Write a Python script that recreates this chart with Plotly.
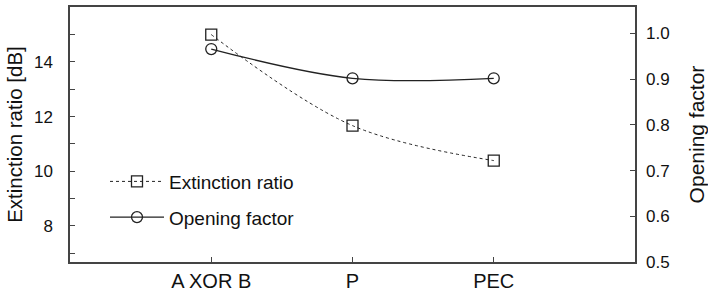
import plotly.graph_objects as go

categories = ["A XOR B", "P", "PEC"]
extinction_ratio = [15.0, 11.67, 10.39]
opening_factor = [0.966, 0.902, 0.902]

font_family = "Liberation Sans, Arial, sans-serif"
line_col = "#222"
axis_col = "#444"

fig = go.Figure()
fig.add_trace(go.Scatter(
    x=[0, 1, 2], y=extinction_ratio, name="Extinction ratio",
    mode="lines+markers", line=dict(color=line_col, width=1, dash="3px,3px", shape="spline"),
    marker=dict(symbol="square-open", size=11, color=line_col, line=dict(width=1.3)),
    legendgroup="a", yaxis="y"))
fig.add_trace(go.Scatter(
    x=[0, 1, 2], y=opening_factor, name="Opening factor",
    mode="lines+markers", line=dict(color=line_col, width=1.3, shape="spline"),
    marker=dict(symbol="circle-open", size=11, color=line_col, line=dict(width=1.3)),
    legendgroup="b", yaxis="y2"))

fig.update_layout(
    width=708, height=294,
    margin=dict(l=70, r=73, t=7, b=32, autoexpand=False),
    paper_bgcolor="white", plot_bgcolor="white",
    font=dict(family=font_family, size=17, color="#111"),
    showlegend=True,
    legend=dict(x=(105 - 70) / 565, y=0.39, xanchor="left", yanchor="top",
                font=dict(size=19), tracegroupgap=8, itemwidth=54,
                bgcolor="rgba(0,0,0,0)"),
    xaxis=dict(range=[-1, 3], tickvals=[0, 1, 2], ticktext=categories,
               tickfont=dict(size=20), automargin=False,
               showline=True, linecolor=axis_col, linewidth=1.5, mirror=True,
               ticks="inside", ticklen=5, tickcolor=axis_col, showgrid=False, zeroline=False),
    yaxis=dict(range=[6.68, 16.01], tickvals=[8, 10, 12, 14], ticks="inside", ticklen=5,
               tickcolor=axis_col, showline=True, linecolor=axis_col, linewidth=1.5, mirror=True,
               showgrid=False, zeroline=False, automargin=False, ticklabelstandoff=12,
               minor=dict(tickvals=[7, 9, 11, 13, 15], ticks="inside", ticklen=5, tickcolor=axis_col),
               title=dict(text="Extinction ratio [dB]", font=dict(size=20.5), standoff=6)),
    yaxis2=dict(range=[0.5, 1.058], overlaying="y", side="right",
                tickvals=[0.5, 0.6, 0.7, 0.8, 0.9, 1.0], tickformat=".1f",
                ticks="inside", ticklen=5, tickcolor=axis_col, showline=False,
                showgrid=False, zeroline=False, automargin=False, ticklabelstandoff=10,
                title=dict(text="Opening factor", font=dict(size=21), standoff=20)),
)

fig.write_html("out.html", config={"displayModeBar": False},
               post_script="document.body.style.margin='0';")
